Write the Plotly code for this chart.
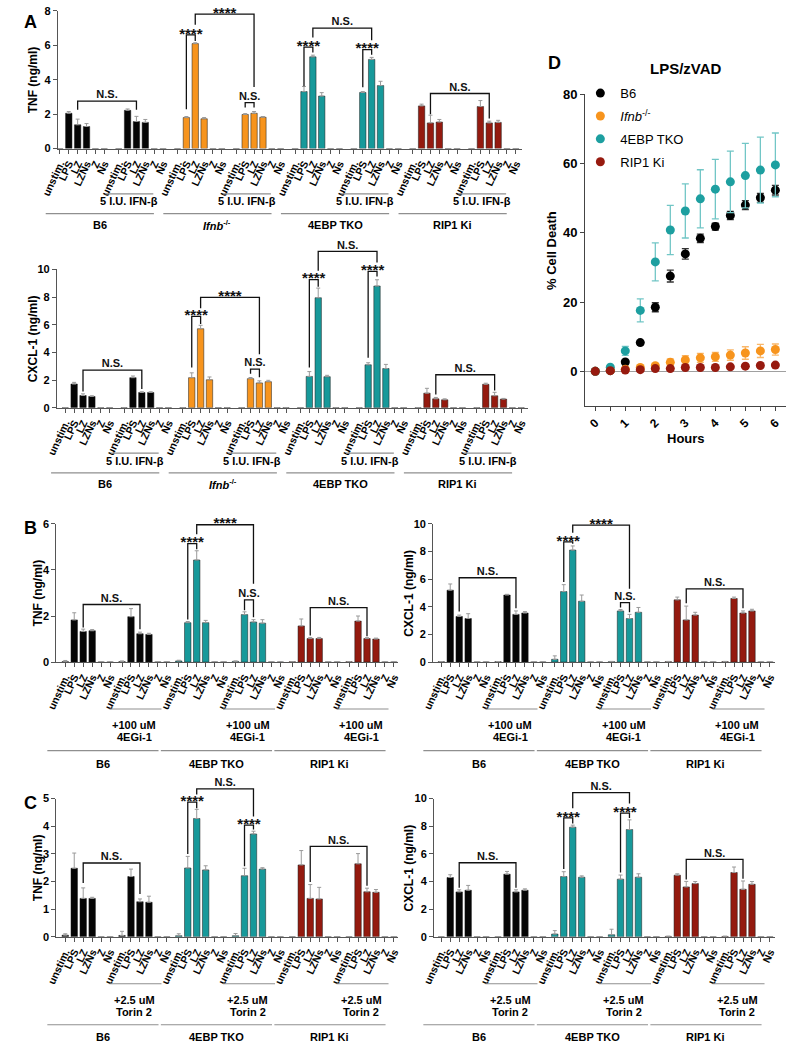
import plotly.graph_objects as go

W, H = 788, 1050
FONT = "Liberation Sans, Arial, sans-serif"
AXC = "#555555"
LBL = "#8f8f8f"

# ------------------------------------------------------------------ data
categories = ["unstim.", "LPS", "LZ", "LZNs", "Z", "Ns"]
genotype_colors = {"B6": "#050505", "Ifnb": "#F7941D", "4EBP": "#17999A", "RIP1": "#941A0F"}

A_groups = ["B6", "B6", "Ifnb", "Ifnb", "4EBP", "4EBP", "RIP1", "RIP1"]
A_genotype_labels = ["B6", "<i>Ifnb</i><sup>-/-</sup>", "4EBP TKO", "RIP1 Ki"]
A_treatment = ["5 I.U. IFN-β"]

A_tnf = [
    [0, 2.05, 1.38, 1.28, 0, 0],
    [0, 2.22, 1.57, 1.52, 0, 0],
    [0, 1.80, 6.10, 1.73, 0, 0],
    [0, 1.98, 2.05, 1.82, 0, 0],
    [0, 3.31, 5.33, 3.05, 0, 0],
    [0, 3.26, 5.18, 3.66, 0, 0],
    [0, 2.48, 1.49, 1.54, 0, 0],
    [0, 2.44, 1.49, 1.52, 0, 0],
]
A_tnf_err = [
    [0, 0.10, 0.33, 0.17, 0, 0],
    [0, 0.08, 0.30, 0.17, 0, 0],
    [0, 0.06, 0.05, 0.07, 0, 0],
    [0, 0.05, 0.10, 0.04, 0, 0],
    [0, 0.30, 0.10, 0.20, 0, 0],
    [0, 0.05, 0.12, 0.25, 0, 0],
    [0, 0.10, 0.45, 0.15, 0, 0],
    [0, 0.35, 0.10, 0.12, 0, 0],
]
# (group a, category a, group b, category b, bracket height, leg a end, leg b end, label)
A_tnf_brackets = [
    (0, 2, 1, 2, 2.76, 2.25, 2.25, "N.S."),
    (2, 1, 2, 2, 6.61, 2.29, 6.25, "****"),
    (2, 2, 3, 2, 7.81, 7.20, 3.58, "****"),
    (3, 1, 3, 2, 2.67, 2.38, 2.38, "N.S."),
    (4, 1, 4, 2, 5.90, 3.62, 5.58, "****"),
    (5, 1, 5, 2, 5.75, 3.56, 5.45, "****"),
    (4, 2, 5, 2, 7.00, 6.45, 6.30, "N.S."),
    (6, 2, 7, 2, 3.20, 2.00, 1.75, "N.S."),
]

A_cxcl = [
    [0, 1.71, 0.88, 0.81, 0, 0],
    [0, 2.17, 1.10, 1.10, 0, 0],
    [0, 2.17, 5.71, 2.02, 0, 0],
    [0, 2.10, 1.79, 1.88, 0, 0],
    [0, 2.26, 7.95, 2.24, 0, 0],
    [0, 3.10, 8.80, 2.83, 0, 0],
    [0, 1.05, 0.64, 0.57, 0, 0],
    [0, 1.69, 0.86, 0.62, 0, 0],
]
A_cxcl_err = [
    [0, 0.12, 0.12, 0.05, 0, 0],
    [0, 0.12, 0.05, 0.05, 0, 0],
    [0, 0.35, 0.25, 0.20, 0, 0],
    [0, 0.08, 0.15, 0.10, 0, 0],
    [0, 0.35, 0.70, 0.10, 0, 0],
    [0, 0.15, 0.45, 0.30, 0, 0],
    [0, 0.35, 0.10, 0.07, 0, 0],
    [0, 0.08, 0.25, 0.05, 0, 0],
]
A_cxcl_brackets = [
    (0, 2, 1, 2, 2.71, 1.17, 1.36, "N.S."),
    (2, 1, 2, 2, 6.60, 2.90, 6.05, "****"),
    (2, 2, 3, 2, 7.98, 7.20, 3.86, "****"),
    (3, 1, 3, 2, 2.79, 2.45, 2.20, "N.S."),
    (4, 1, 4, 2, 9.26, 2.90, 8.74, "****"),
    (5, 1, 5, 2, 9.86, 3.62, 9.48, "****"),
    (4, 2, 5, 2, 11.30, 9.90, 10.50, "N.S."),
    (6, 2, 7, 2, 2.38, 0.95, 1.24, "N.S."),
]

BC_groups = ["B6", "B6", "4EBP", "4EBP", "RIP1", "RIP1"]
BC_genotype_labels = ["B6", "4EBP TKO", "RIP1 Ki"]
B_treatment = ["+100 uM", "4EGi-1"]
C_treatment = ["+2.5 uM", "Torin 2"]

B_tnf = [
    [0.02, 1.83, 1.33, 1.36, 0, 0],
    [0.02, 1.97, 1.23, 1.20, 0, 0],
    [0.05, 1.71, 4.43, 1.71, 0, 0],
    [0.03, 2.06, 1.74, 1.69, 0, 0],
    [0.01, 1.57, 1.02, 1.02, 0, 0],
    [0.01, 1.78, 1.02, 1.00, 0, 0],
]
B_tnf_err = [
    [0.05, 0.31, 0.10, 0.05, 0, 0],
    [0.03, 0.35, 0.07, 0.05, 0, 0],
    [0.03, 0.05, 0.40, 0.10, 0, 0],
    [0.02, 0.12, 0.10, 0.15, 0, 0],
    [0.00, 0.30, 0.05, 0.05, 0, 0],
    [0.00, 0.22, 0.04, 0.04, 0, 0],
]
B_tnf_brackets = [
    (0, 2, 1, 2, 2.50, 1.50, 1.42, "N.S."),
    (2, 1, 2, 2, 5.14, 1.85, 4.90, "****"),
    (2, 2, 3, 2, 5.96, 5.55, 3.40, "****"),
    (3, 1, 3, 2, 2.70, 2.25, 1.95, "N.S."),
    (4, 2, 5, 2, 2.36, 1.15, 1.12, "N.S."),
]

B_cxcl = [
    [0.02, 5.20, 3.30, 3.15, 0, 0],
    [0.02, 4.85, 3.45, 3.55, 0, 0],
    [0.20, 5.10, 8.10, 4.40, 0, 0],
    [0.03, 3.70, 3.15, 3.60, 0, 0],
    [0.03, 4.50, 3.05, 3.40, 0, 0],
    [0.03, 4.60, 3.55, 3.70, 0, 0],
]
B_cxcl_err = [
    [0.02, 0.45, 0.10, 0.35, 0, 0],
    [0.02, 0.05, 0.25, 0.10, 0, 0],
    [0.25, 0.50, 0.30, 0.45, 0, 0],
    [0.02, 0.10, 0.30, 0.35, 0, 0],
    [0.02, 0.20, 1.00, 0.20, 0, 0],
    [0.02, 0.10, 0.15, 0.12, 0, 0],
]
B_cxcl_brackets = [
    (0, 2, 1, 2, 6.10, 3.65, 3.90, "N.S."),
    (2, 1, 2, 2, 8.70, 5.80, 8.55, "****"),
    (2, 2, 3, 2, 9.90, 9.35, 5.30, "****"),
    (3, 1, 3, 2, 4.30, 3.95, 3.60, "N.S."),
    (4, 2, 5, 2, 5.30, 4.25, 3.90, "N.S."),
]

C_tnf = [
    [0.06, 2.48, 1.39, 1.39, 0, 0],
    [0.05, 2.18, 1.27, 1.25, 0, 0],
    [0.04, 2.49, 4.28, 2.42, 0, 0],
    [0.04, 2.21, 3.72, 2.45, 0, 0],
    [0.00, 2.60, 1.39, 1.37, 0, 0],
    [0.00, 2.64, 1.63, 1.61, 0, 0],
]
C_tnf_err = [
    [0.05, 0.55, 0.38, 0.04, 0, 0],
    [0.15, 0.27, 0.10, 0.22, 0, 0],
    [0.07, 0.42, 0.33, 0.15, 0, 0],
    [0.08, 0.27, 0.10, 0.05, 0, 0],
    [0.00, 0.52, 0.50, 0.42, 0, 0],
    [0.00, 0.37, 0.13, 0.10, 0, 0],
]
C_tnf_brackets = [
    (0, 2, 1, 2, 2.67, 1.95, 1.55, "N.S."),
    (2, 1, 2, 2, 4.87, 3.00, 4.65, "****"),
    (3, 1, 3, 2, 4.04, 2.55, 3.88, "****"),
    (2, 2, 3, 2, 5.35, 5.15, 4.35, "N.S."),
    (4, 2, 5, 2, 3.27, 1.98, 1.85, "N.S."),
]

C_cxcl = [
    [0.00, 4.29, 3.25, 3.37, 0, 0],
    [0.00, 4.53, 3.25, 3.37, 0, 0],
    [0.20, 4.36, 7.93, 4.31, 0, 0],
    [0.15, 4.17, 7.76, 4.31, 0, 0],
    [0.03, 4.46, 3.61, 3.85, 0, 0],
    [0.03, 4.65, 3.44, 3.80, 0, 0],
]
C_cxcl_err = [
    [0.00, 0.20, 0.15, 0.35, 0, 0],
    [0.00, 0.20, 0.15, 0.10, 0, 0],
    [0.25, 0.35, 0.15, 0.10, 0, 0],
    [0.40, 0.30, 0.70, 0.25, 0, 0],
    [0.02, 0.10, 0.40, 0.15, 0, 0],
    [0.02, 0.40, 0.60, 0.20, 0, 0],
]
C_cxcl_brackets = [
    (0, 2, 1, 2, 5.36, 3.55, 3.55, "N.S."),
    (2, 1, 2, 2, 8.60, 4.90, 8.20, "****"),
    (3, 1, 3, 2, 8.95, 4.65, 8.60, "****"),
    (2, 2, 3, 2, 10.43, 9.30, 9.65, "N.S."),
    (4, 2, 5, 2, 5.60, 4.15, 4.20, "N.S."),
]

# Panel D
hours = [0, 0.5, 1, 1.5, 2, 2.5, 3, 3.5, 4, 4.5, 5, 5.5, 6]
hour_labels = [0, 1, 2, 3, 4, 5, 6]
D_names = ["B6", "<i>Ifnb</i><sup>-/-</sup>", "4EBP TKO", "RIP1 Ki"]
D_b6 = [0, 0.2, 2.7, 8.3, 18.5, 27.5, 33.9, 38.4, 41.8, 45.0, 48.0, 50.1, 52.3]
D_b6_err = [0, 0.2, 0.5, 0.6, 1.3, 1.7, 1.5, 1.2, 1.0, 1.2, 1.3, 1.3, 1.4]
D_ifnb = [0, 0.3, 0.6, 1.1, 1.6, 2.6, 3.3, 3.9, 4.2, 4.7, 5.3, 5.9, 6.3]
D_ifnb_err = [0, 0.2, 0.4, 0.5, 0.6, 1.0, 1.2, 1.3, 1.3, 1.5, 1.8, 1.9, 1.6]
D_tko = [0, 1.2, 5.9, 17.6, 31.6, 40.8, 46.3, 49.8, 52.6, 54.7, 56.5, 58.1, 59.6]
D_tko_err = [0, 0.3, 1.3, 3.3, 5.5, 7.1, 7.8, 8.4, 8.6, 8.9, 9.3, 9.5, 9.2]
D_rip = [0, 0.2, 0.4, 0.5, 0.8, 0.8, 1.1, 1.1, 1.1, 1.3, 1.5, 1.7, 1.8]
D_rip_err = [0, 0.1, 0.2, 0.2, 0.3, 0.3, 0.3, 0.3, 0.3, 0.3, 0.4, 0.4, 0.4]
D_colors = ["#000000", "#F7941D", "#1D9FA0", "#971A0F"]
D_err_colors = ["#333333", "#F9B76A", "#72C6C6", "#B0564C"]

# ------------------------------------------------------------------ figure
fig = go.Figure()
layout = {}
shapes, annotations = [], []
counter = [0]


def new_axes():
    counter[0] += 1
    n = counter[0]
    suf = "" if n == 1 else str(n)
    return "x" + suf, "y" + suf, "xaxis" + suf, "yaxis" + suf


def bar_panel(groups, values, errors, brackets, yticks, geom, G, treat_text, geno_names,
              rows, ytitle, ytitle_x, tspan, tlab, gspan, glab):
    x0, x1, c0, s, yb, yt, ytop = geom
    xr, yr, xk, yk = new_axes()
    xo, yo, xok, yok = new_axes()
    ppu = (yb - yt) / ytop
    ncat = len(categories)
    pos = [g * G + c for g in range(len(groups)) for c in range(ncat)]
    tf = dict(size=11, weight="bold", color="black", family=FONT)
    xf = dict(size=10.5, weight="bold", color="black", family=FONT)
    layout[xk] = dict(domain=[x0 / W, x1 / W], range=[(x0 - c0) / s, (x1 - c0) / s],
                      anchor=yr, showline=True, linecolor=AXC, linewidth=1.2, ticks="outside",
                      ticklen=4, tickwidth=1, tickcolor=AXC, tickmode="array", tickvals=pos,
                      ticktext=categories * len(groups), tickangle=-65, tickfont=xf,
                      showgrid=False, zeroline=False)
    layout[yk] = dict(domain=[1 - yb / H, 1 - yt / H], range=[0, ytop], anchor=xr,
                      showline=True, linecolor=AXC, linewidth=1.2, ticks="outside", ticklen=4,
                      tickwidth=1, tickcolor=AXC, tickmode="array", tickvals=yticks, tickfont=tf,
                      showgrid=False, zeroline=False)
    ox0, ox1, oyt = max(0.0, x0 - 35), min(float(W), x1 + 15), max(0.0, yt - 45)
    layout[xok] = dict(domain=[ox0 / W, ox1 / W], range=[(ox0 - c0) / s, (ox1 - c0) / s],
                       anchor=yo, visible=False)
    layout[yok] = dict(domain=[1 - yb / H, 1 - oyt / H], range=[0, (yb - oyt) / ppu],
                       anchor=xo, visible=False)

    xs, ys, es, cols = [], [], [], []
    for g, geno in enumerate(groups):
        for c in range(ncat):
            xs.append(g * G + c)
            ys.append(values[g][c])
            es.append(errors[g][c])
            cols.append(genotype_colors[geno])
    fig.add_trace(go.Bar(x=xs, y=ys, width=0.72, xaxis=xr, yaxis=yr, showlegend=False,
                         marker=dict(color=cols, line=dict(color="rgba(25,25,25,0.85)", width=0.6)),
                         error_y=dict(type="data", symmetric=False, array=es,
                                      arrayminus=[0] * len(es), color="#9a9a9a",
                                      thickness=1, width=2),
                         hoverinfo="skip"))

    bx, by = [], []
    star_x, star_y, ns_x, ns_y = [], [], [], []
    for (ga, ca, gb, cb, h, la, lb, lab) in brackets:
        xa, xb = ga * G + ca, gb * G + cb
        bx += [xa, xa, xb, xb, None]
        by += [la, h, h, lb, None]
        if lab == "****":
            star_x.append((xa + xb) / 2)
            star_y.append(h)
        else:
            ns_x.append((xa + xb) / 2)
            ns_y.append(h)
    fig.add_trace(go.Scatter(x=bx, y=by, mode="lines", xaxis=xo, yaxis=yo, showlegend=False,
                             line=dict(color="#111111", width=1.3), hoverinfo="skip"))
    fig.add_trace(go.Scatter(x=star_x, y=star_y, mode="text", text=["****"] * len(star_x),
                             textposition="middle center", xaxis=xo, yaxis=yo, cliponaxis=False,
                             textfont=dict(size=15, weight="bold", color="#111111", family=FONT),
                             showlegend=False, hoverinfo="skip"))
    fig.add_trace(go.Scatter(x=ns_x, y=ns_y, mode="text", text=["N.S."] * len(ns_x),
                             textposition="top center", xaxis=xo, yaxis=yo, cliponaxis=False,
                             textfont=dict(size=11, weight="bold", color="#111111", family=FONT),
                             showlegend=False, hoverinfo="skip"))

    lf = dict(size=11, weight="bold", color="black", family=FONT)
    for k, p in enumerate(range(0, len(groups), 2)):
        gt = p + 1
        yl = 1 - (yb + rows[0]) / H
        shapes.append(dict(type="line", xref=xo, yref="paper", x0=gt * G + tspan[0],
                           x1=gt * G + tspan[1], y0=yl, y1=yl, line=dict(color=LBL, width=1.2)))
        for i, t in enumerate(treat_text):
            annotations.append(dict(xref=xo, yref="paper", x=gt * G + tlab,
                                    y=1 - (yb + rows[1][i]) / H, text=t, showarrow=False,
                                    font=lf, xanchor="center", yanchor="middle"))
        yg = 1 - (yb + rows[2]) / H
        shapes.append(dict(type="line", xref=xo, yref="paper", x0=p * G + gspan[0],
                           x1=p * G + gspan[1], y0=yg, y1=yg, line=dict(color=LBL, width=1.2)))
        annotations.append(dict(xref=xo, yref="paper", x=p * G + glab,
                                y=1 - (yb + rows[3]) / H, text=geno_names[k], showarrow=False,
                                font=lf, xanchor="center", yanchor="middle"))
    annotations.append(dict(xref="paper", yref="paper", x=ytitle_x / W, y=1 - (yb + yt) / 2 / H,
                            text=ytitle, textangle=-90, showarrow=False,
                            font=dict(size=12, weight="bold", color="black", family=FONT),
                            xanchor="center", yanchor="middle"))


A_rows = (46, [53.5], 66, 77)
B_rows = (47.5, [63.5, 75.7], 89.7, 103.4)
C_rows = (47.5, [63.5, 76.5], 89.0, 101.5)

bar_panel(A_groups, A_tnf, A_tnf_err, A_tnf_brackets, [0, 2, 4, 6, 8],
          (41, 517, 43.0, 9.1, 143.3, 4.0, 8), 6.63, A_treatment, A_genotype_labels,
          A_rows, "TNF (ng/ml)", 15, (-1.5, 3.9), 1.2, (-1.6, 10.6), 4.5)
bar_panel(A_groups, A_cxcl, A_cxcl_err, A_cxcl_brackets, [0, 2, 4, 6, 8, 10],
          (40, 523, 48.5, 9.1, 405.7, 265.7, 10), 6.63, A_treatment, A_genotype_labels,
          A_rows, "CXCL-1 (ng/ml)", 15, (-1.5, 3.9), 1.2, (-1.6, 10.6), 4.5)
bar_panel(BC_groups, B_tnf, B_tnf_err, B_tnf_brackets, [0, 2, 4, 6],
          (39.5, 390, 48.5, 9.2, 663.3, 523.3, 6), 6.33, B_treatment, BC_genotype_labels,
          B_rows, "TNF (ng/ml)", 20, (-1.4, 4.4), 1.35, (-2.0, 10.4), 4.2)
bar_panel(BC_groups, B_cxcl, B_cxcl_err, B_cxcl_brackets, [0, 2, 4, 6, 8, 10],
          (426, 777, 434.3, 9.2, 663.3, 523.3, 10), 6.33, B_treatment, BC_genotype_labels,
          B_rows, "CXCL-1 (ng/ml)", 401, (-1.4, 4.4), 1.35, (-2.0, 10.4), 4.2)
bar_panel(BC_groups, C_tnf, C_tnf_err, C_tnf_brackets, [0, 1, 2, 3, 4, 5],
          (39.5, 390, 48.5, 9.2, 941.5, 801.5, 5), 6.33, C_treatment, BC_genotype_labels,
          C_rows, "TNF (ng/ml)", 20, (-1.4, 4.4), 1.35, (-2.0, 10.4), 4.2)
bar_panel(BC_groups, C_cxcl, C_cxcl_err, C_cxcl_brackets, [0, 2, 4, 6, 8, 10],
          (427, 777, 434.3, 9.2, 941.5, 801.5, 10), 6.33, C_treatment, BC_genotype_labels,
          C_rows, "CXCL-1 (ng/ml)", 401, (-1.4, 4.4), 1.35, (-2.0, 10.4), 4.2)

# ---------------- Panel D
xr, yr, xk, yk = new_axes()
dx0, dx1, dz, ds = 582, 788, 592.3, 30.8
layout[xk] = dict(domain=[dx0 / W, dx1 / W], range=[(dx0 - dz) / ds, (dx1 - dz) / ds],
                  anchor=yr, showline=True, linecolor="#444444", linewidth=1.4, ticks="outside",
                  ticklen=4, tickcolor="#444444", tickmode="array", tickvals=hour_labels,
                  tickangle=-45,
                  minor=dict(dtick=0.5, tick0=0, ticks="outside", ticklen=4, tickcolor="#444444",
                             showgrid=False),
                  tickfont=dict(size=12, weight="bold", color="black", family=FONT),
                  showgrid=False, zeroline=False)
layout[yk] = dict(domain=[1 - 404 / H, 1 - 88.3 / H], range=[-10, 80], anchor=xr,
                  showline=True, linecolor="#444444", linewidth=1.4, ticks="outside", ticklen=4,
                  tickcolor="#444444", tickmode="array", tickvals=[0, 20, 40, 60, 80],
                  tickfont=dict(size=13, weight="bold", color="black", family=FONT),
                  showgrid=False, zeroline=True, zerolinecolor="#a0a0a0", zerolinewidth=1)
D_series = [(D_b6, D_b6_err), (D_ifnb, D_ifnb_err), (D_tko, D_tko_err), (D_rip, D_rip_err)]
for i, (vals, errs) in enumerate(D_series):
    fig.add_trace(go.Scatter(x=hours, y=vals, mode="markers", name=D_names[i], xaxis=xr, yaxis=yr,
                             legendgroup="g%d" % i, cliponaxis=False,
                             marker=dict(color=D_colors[i], size=9),
                             error_y=dict(type="data", array=errs, color=D_err_colors[i],
                                          thickness=1.3, width=3.5),
                             hoverinfo="skip"))
annotations += [
    dict(xref="paper", yref="paper", x=685 / W, y=1 - 62 / H, text="LPS/zVAD", showarrow=False,
         xanchor="center", yanchor="middle",
         font=dict(size=15, weight="bold", color="black", family=FONT)),
    dict(xref="paper", yref="paper", x=685 / W, y=1 - 437 / H, text="Hours", showarrow=False,
         xanchor="center", yanchor="middle",
         font=dict(size=13, weight="bold", color="black", family=FONT)),
    dict(xref="paper", yref="paper", x=548 / W, y=1 - 247 / H, text="% Cell Death",
         textangle=-90, showarrow=False, xanchor="center", yanchor="middle",
         font=dict(size=13, weight="bold", color="black", family=FONT)),
]
for letter, lx, ly in [("A", 4, 15), ("B", 4, 528), ("C", 4, 806), ("D", 542, 57)]:
    annotations.append(dict(xref="paper", yref="paper", x=lx / W, y=1 - ly / H, text=letter,
                            showarrow=False, xanchor="left", yanchor="middle",
                            font=dict(size=18, weight="bold", color="black", family=FONT)))

fig.update_layout(
    width=W, height=H, margin=dict(l=0, r=0, t=0, b=0),
    paper_bgcolor="white", plot_bgcolor="rgba(0,0,0,0)",
    font=dict(family=FONT, size=11, color="black"),
    hovermode=False,
    legend=dict(x=577 / W, y=1 - 72 / H, xanchor="left", yanchor="top",
                font=dict(size=13, color="black", family=FONT), bgcolor="rgba(0,0,0,0)",
                tracegroupgap=3),
    shapes=shapes, annotations=annotations, **layout)

fig.write_html("out.html", config={"displayModeBar": False},
               post_script="document.body.style.margin='0px';document.body.style.overflow='hidden';")
